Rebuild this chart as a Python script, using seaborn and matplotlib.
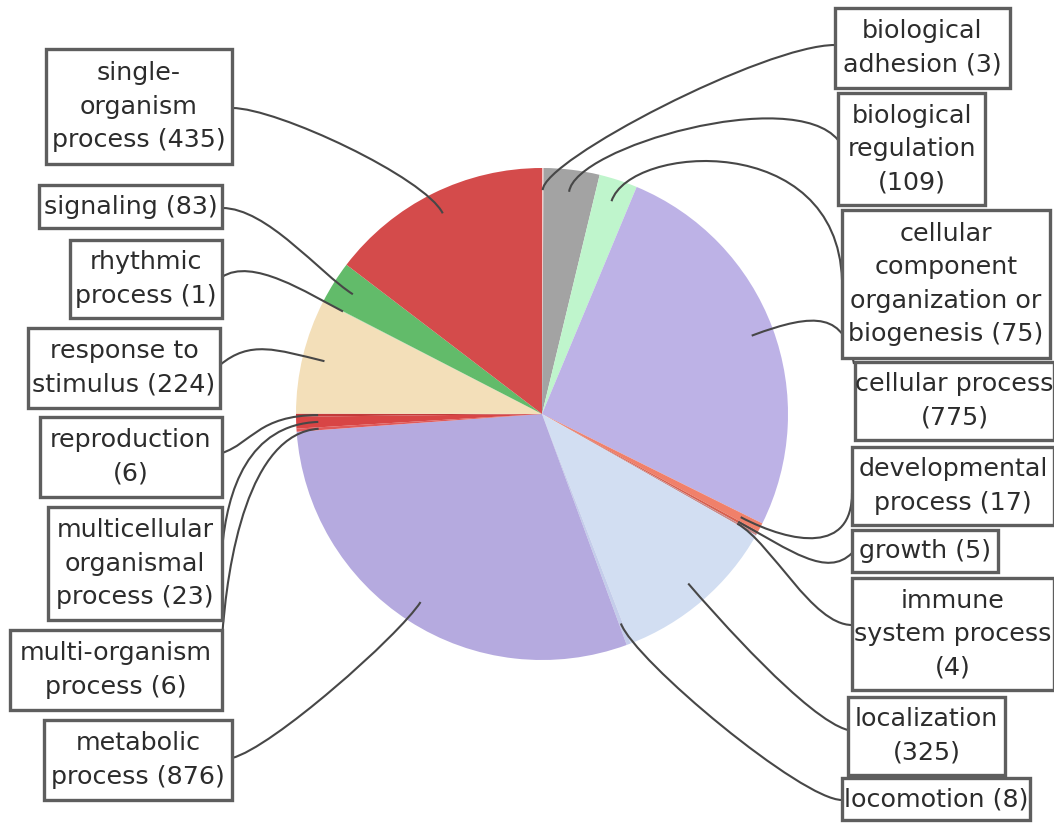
import numpy as np
import matplotlib
matplotlib.use("Agg")
import matplotlib.pyplot as plt
import seaborn as sns
from matplotlib.patches import Rectangle, PathPatch
from matplotlib.path import Path

# ---------------- data ----------------
categories = ["biological adhesion", "biological regulation",
              "cellular component organization or biogenesis", "cellular process",
              "developmental process", "growth", "immune system process",
              "localization", "locomotion", "metabolic process",
              "multi-organism process", "multicellular organismal process",
              "reproduction", "response to stimulus", "rhythmic process",
              "signaling", "single-organism process"]
counts = [3, 109, 75, 775, 17, 5, 4, 325, 8, 876, 6, 23, 6, 224, 1, 83, 435]
label_templates = ["biological\nadhesion ({})", "biological\nregulation\n({})",
                   "cellular\ncomponent\norganization or\nbiogenesis ({})",
                   "cellular process\n({})", "developmental\nprocess ({})",
                   "growth ({})", "immune\nsystem process\n({})",
                   "localization\n({})", "locomotion ({})",
                   "metabolic\nprocess ({})", "multi-organism\nprocess ({})",
                   "multicellular\norganismal\nprocess ({})", "reproduction\n({})",
                   "response to\nstimulus ({})", "rhythmic\nprocess ({})",
                   "signaling ({})", "single-\norganism\nprocess ({})"]
colors = ["#f2c9c9", "#a3a3a3", "#bff5cc", "#bdb2e6", "#f0806a", "#d9604e",
          "#c98a8a", "#d2def2", "#c4cdea", "#b5aadf", "#e05a5a", "#d84545",
          "#c23a3a", "#f3dfb9", "#9ed9a0", "#62bb6a", "#d44b4b"]

# ---------------- layout (image pixel coords) ----------------
W, H = 1054, 824
CX, CY, R = 542, 414, 246
boxes = [(835, 8, 1010, 88), (838, 93, 985, 205), (842, 210, 1050, 358),
         (855, 362, 1054, 440), (852, 447, 1054, 525), (852, 530, 998, 572),
         (852, 578, 1054, 690), (848, 697, 1005, 775), (842, 778, 1030, 820),
         (44, 720, 232, 800), (10, 630, 222, 710), (48, 507, 222, 620),
         (40, 417, 222, 497), (28, 328, 220, 408), (70, 240, 222, 318),
         (39, 185, 222, 228), (46, 49, 232, 164)]
attach = [(835, 45), (838, 140), (842, 280), (854, 364), (852, 493), (852, 553),
          (852, 625), (848, 730), (842, 800), (232, 758), (222, 640), (222, 550),
          (222, 453), (220, 365), (222, 277), (222, 208), (232, 108)]
ctrl = [(-70, 0), (-45, -55), (-5, -150), (-10, -50), (0, 60), (-25, 25),
        (-40, 0), (-40, -10), (-40, 0), (40, -10), (5, -80), (5, -60),
        (30, -10), (30, -25), (30, -20), (45, 0), (45, 0)]
radial_ext = [30, 45, 60, 70, 60, 60, 40, 40, 40, 40, 70, 70, 60, 50, 40, 40, 40]

sns.set_theme(style="white")
plt.rcParams["font.family"] = ["DejaVu Sans"]

fig = plt.figure(figsize=(W / 100, H / 100), dpi=100)
ax = fig.add_axes([0, 0, 1, 1])

wedges, _ = ax.pie(counts, colors=colors, startangle=90, counterclock=False,
                   center=(CX, H - CY), radius=R,
                   wedgeprops=dict(linewidth=0, antialiased=True))
ax.set_xlim(0, W)
ax.set_ylim(0, H)
ax.set_aspect("equal")
ax.axis("off")

for i, w in enumerate(wedges):
    th = np.deg2rad((w.theta1 + w.theta2) / 2)
    u = np.array([np.cos(th), np.sin(th)])
    p0 = np.array([CX, H - CY]) + 0.91 * R * u
    p1 = p0 + radial_ext[i] * u
    ax_, ay_ = attach[i]
    p3 = np.array([ax_, H - ay_])
    p2 = p3 + np.array([ctrl[i][0], -ctrl[i][1]])
    path = Path([p0, p1, p2, p3], [Path.MOVETO, Path.CURVE4, Path.CURVE4, Path.CURVE4])
    ax.add_patch(PathPatch(path, fc="none", ec="#474747", lw=1.5, zorder=3))

    x0, y0, x1, y1 = boxes[i]
    ax.add_patch(Rectangle((x0, H - y1), x1 - x0, y1 - y0, fc="white",
                           ec="#5e5e5e", lw=2.4, zorder=4))
    ax.text((x0 + x1) / 2, H - (y0 + y1) / 2, label_templates[i].format(counts[i]),
            ha="center", va="center", fontsize=18.3, color="#2c2c2c",
            linespacing=1.5, zorder=5)

fig.savefig("out.png", dpi=100, facecolor="white")
